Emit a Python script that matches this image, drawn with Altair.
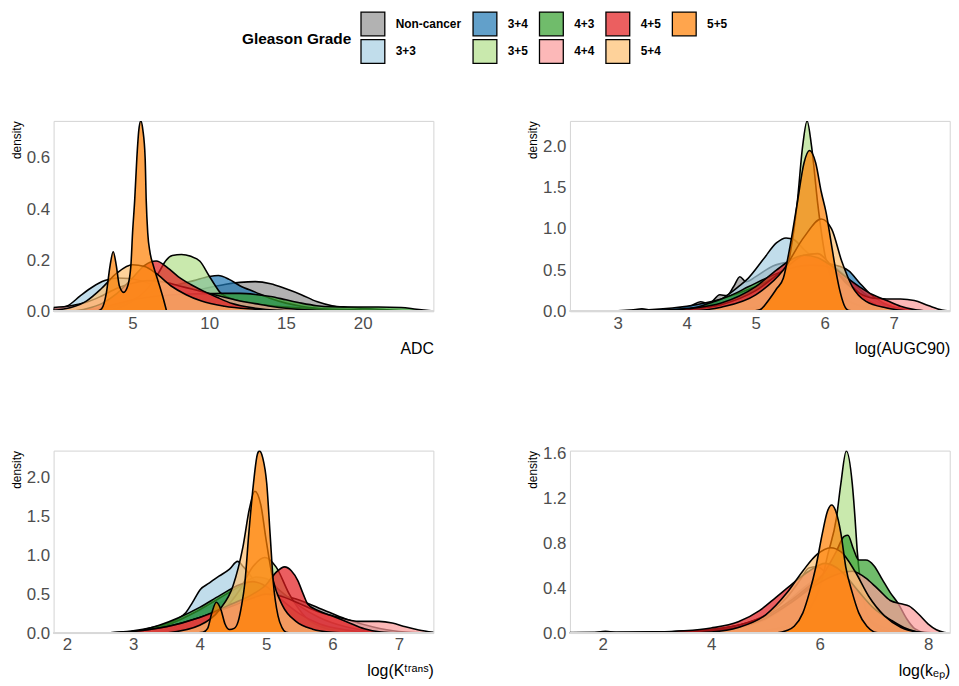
import altair as alt
import pandas as pd

GROUPS = ["Non-cancer", "3+3", "3+4", "3+5", "4+3", "4+4", "4+5", "5+4", "5+5"]
GROUP_COLORS = ["#919191", "#a6cee3", "#1f78b4", "#b2df8a", "#33a02c", "#fb9a99", "#e31a1c", "#fdbf6f", "#ff7f00"]
FILL_ALPHA = 0.7

# ---- density curves: (x, density) ----
ADC = {
    "Non-cancer": [(1, 0), (2, 0.005), (3, 0.012), (4, 0.02), (5, 0.03), (6, 0.042), (7, 0.055), (8, 0.068),
                   (9, 0.08), (10, 0.093), (11, 0.105), (12, 0.113), (13, 0.116), (14, 0.108), (15, 0.088),
                   (16, 0.065), (17, 0.038), (18, 0.022), (19, 0.016), (20, 0.012), (21, 0.008), (22, 0.004),
                   (23, 0.001), (24, 0)],
    "3+3": [(-0.13, 0.008), (0.8, 0.022), (1.6, 0.06), (2.4, 0.095), (3.2, 0.12), (4, 0.13), (4.8, 0.128),
            (5.8, 0.115), (7, 0.09), (8.5, 0.06), (10, 0.04), (12, 0.02), (14, 0.01), (17, 0.003), (20, 0)],
    "3+4": [(2, 0), (3, 0.01), (4, 0.025), (5, 0.045), (6, 0.07), (7, 0.09), (8, 0.105), (9, 0.12), (10, 0.136),
            (10.6, 0.14), (11.3, 0.125), (12, 0.1), (13, 0.075), (14, 0.05), (15, 0.032), (16, 0.02),
            (17, 0.012), (18, 0.006), (20, 0.002), (22, 0)],
    "3+5": [(3, 0), (4, 0.01), (5, 0.04), (6, 0.09), (6.7, 0.15), (7.2, 0.2), (7.6, 0.218), (8.2, 0.222),
            (8.8, 0.215), (9.4, 0.196), (10.0, 0.138), (10.4, 0.1), (10.7, 0.074), (11.2, 0.055), (12, 0.04),
            (14, 0.022), (16, 0.013), (18, 0.008), (20, 0.005), (24, 0)],
    "4+3": [(1, 0), (2, 0.005), (3, 0.015), (4, 0.03), (5, 0.045), (6, 0.055), (7, 0.062), (8, 0.066),
            (9, 0.068), (10, 0.069), (11, 0.07), (12, 0.07), (13, 0.066), (14, 0.058), (15, 0.045),
            (16, 0.032), (17, 0.022), (18, 0.018), (19.5, 0.017), (21, 0.017), (22.5, 0.015), (23.5, 0.008),
            (24.6, 0.001)],
    "4+4": [(-0.13, 0.015), (1, 0.022), (2, 0.035), (3, 0.06), (4, 0.09), (5, 0.11), (6, 0.12), (7, 0.115),
            (8, 0.1), (9, 0.085), (10, 0.07), (11, 0.055), (12, 0.04), (13, 0.03), (14, 0.02), (15, 0.012),
            (17, 0.004), (19, 0)],
    "4+5": [(1, 0), (2, 0.01), (3, 0.03), (4, 0.07), (5, 0.13), (5.8, 0.18), (6.55, 0.197), (7.3, 0.17),
            (8, 0.135), (8.8, 0.105), (9.6, 0.08), (10.5, 0.055), (11.5, 0.03), (13, 0.012), (15, 0.003),
            (17, 0)],
    "5+4": [(-0.13, 0.004), (1, 0.015), (2, 0.04), (3, 0.09), (4, 0.15), (5, 0.182), (5.8, 0.175), (6.5, 0.15),
            (7.5, 0.1), (8.5, 0.065), (9.5, 0.04), (11, 0.02), (13, 0.008), (15, 0)],
    "5+5": [(2.7, 0), (3.0, 0.01), (3.3, 0.07), (3.55, 0.18), (3.75, 0.233), (3.95, 0.18), (4.15, 0.1),
            (4.43, 0.074), (4.7, 0.1), (4.9, 0.177), (5.01, 0.306), (5.15, 0.435), (5.29, 0.6), (5.42, 0.71),
            (5.55, 0.745), (5.68, 0.71), (5.83, 0.6), (5.9, 0.435), (6.0, 0.306), (6.15, 0.23), (6.37, 0.177),
            (6.7, 0.113), (7.02, 0.048), (7.23, 0)],
}

AUGC = {
    "Non-cancer": [(2.31, 0.003), (3.0, 0.005), (3.2, 0.015), (3.35, 0.03), (3.5, 0.015), (3.8, 0.02),
                   (4.05, 0.06), (4.2, 0.115), (4.32, 0.09), (4.48, 0.2), (4.58, 0.19), (4.68, 0.3),
                   (4.77, 0.42), (4.86, 0.36), (5.0, 0.42), (5.25, 0.55), (5.5, 0.6), (5.8, 0.62), (6.0, 0.6),
                   (6.2, 0.5), (6.4, 0.35), (6.6, 0.2), (6.8, 0.1), (7.0, 0.05), (7.3, 0.015), (7.6, 0)],
    "3+3": [(3.5, 0), (4.0, 0.03), (4.39, 0.09), (4.58, 0.19), (4.75, 0.3), (4.89, 0.4), (5.11, 0.63),
            (5.3, 0.83), (5.44, 0.89), (5.55, 0.87), (5.7, 0.75), (5.9, 0.6), (6.1, 0.48), (6.3, 0.32),
            (6.5, 0.15), (6.7, 0.05), (7.0, 0.01), (7.3, 0)],
    "3+4": [(2.31, 0), (3.0, 0.005), (3.5, 0.02), (4.0, 0.06), (4.5, 0.15), (5.0, 0.3), (5.4, 0.45),
            (5.7, 0.55), (6.0, 0.58), (6.2, 0.55), (6.35, 0.49), (6.5, 0.35), (6.66, 0.21), (6.85, 0.1),
            (7.1, 0.03), (7.5, 0)],
    "3+5": [(4.5, 0), (5.0, 0.05), (5.3, 0.2), (5.5, 0.7), (5.6, 1.3), (5.68, 2.0), (5.745, 2.31), (5.81, 2.0),
            (5.9, 1.3), (6.0, 0.7), (6.15, 0.3), (6.4, 0.1), (6.8, 0.02), (7.2, 0)],
    "4+3": [(3.3, 0), (3.8, 0.02), (4.15, 0.05), (4.39, 0.116), (4.63, 0.19), (4.9, 0.3), (5.2, 0.42),
            (5.5, 0.52), (5.8, 0.56), (6.0, 0.55), (6.2, 0.45), (6.4, 0.3), (6.6, 0.15), (6.8, 0.06),
            (7.0, 0.02), (7.3, 0)],
    "4+4": [(3.5, 0), (4.0, 0.02), (4.5, 0.08), (5.0, 0.25), (5.4, 0.5), (5.7, 0.68), (5.9, 0.7), (6.1, 0.55),
            (6.3, 0.35), (6.5, 0.22), (6.7, 0.16), (6.9, 0.15), (7.1, 0.15), (7.3, 0.13), (7.5, 0.07),
            (7.7, 0.015), (7.81, 0.004)],
    "4+5": [(3.5, 0), (4.0, 0.03), (4.5, 0.1), (5.0, 0.3), (5.3, 0.5), (5.5, 0.62), (5.7, 0.68), (5.9, 0.65),
            (6.1, 0.55), (6.3, 0.42), (6.5, 0.3), (6.7, 0.2), (6.9, 0.13), (7.1, 0.06), (7.3, 0.02), (7.5, 0)],
    "5+4": [(4.0, 0), (4.5, 0.05), (5.0, 0.2), (5.4, 0.5), (5.7, 0.9), (5.95, 1.12), (6.1, 1.0), (6.25, 0.6),
            (6.4, 0.3), (6.6, 0.12), (6.9, 0.04), (7.3, 0)],
    "5+5": [(4.9, 0), (5.06, 0.02), (5.2, 0.15), (5.3, 0.27), (5.4, 0.4), (5.5, 0.8), (5.6, 1.3), (5.7, 1.8),
            (5.78, 1.95), (5.87, 1.8), (5.95, 1.45), (6.02, 1.2), (6.1, 0.8), (6.16, 0.5), (6.22, 0.25),
            (6.28, 0.08), (6.35, 0.01), (6.5, 0)],
}

KTRANS = {
    "Non-cancer": [(2.5, 0), (3.0, 0.03), (3.5, 0.12), (3.8, 0.22), (4.2, 0.35), (4.6, 0.48), (5.0, 0.5),
                   (5.4, 0.45), (5.8, 0.32), (6.2, 0.18), (6.6, 0.08), (7.0, 0.02), (7.5, 0)],
    "3+3": [(2.5, 0), (3.0, 0.01), (3.19, 0.03), (3.39, 0.09), (3.64, 0.17), (3.79, 0.26), (3.89, 0.39),
            (4.01, 0.56), (4.14, 0.64), (4.29, 0.73), (4.45, 0.82), (4.57, 0.92), (4.66, 0.85), (4.8, 0.7),
            (5.0, 0.5), (5.2, 0.35), (5.5, 0.2), (5.8, 0.1), (6.2, 0.04), (6.6, 0.01), (7.0, 0)],
    "3+4": [(2.5, 0), (3.0, 0.02), (3.5, 0.1), (4.0, 0.3), (4.3, 0.45), (4.6, 0.6), (4.85, 0.72), (5.0, 0.7),
            (5.2, 0.55), (5.5, 0.35), (5.8, 0.2), (6.2, 0.08), (6.6, 0.02), (7.0, 0)],
    "3+5": [(3.0, 0), (3.5, 0.02), (4.0, 0.1), (4.3, 0.25), (4.6, 0.55), (4.8, 0.85), (4.98, 0.97),
            (5.15, 0.85), (5.35, 0.5), (5.6, 0.2), (5.9, 0.06), (6.3, 0.01), (6.6, 0)],
    "4+3": [(2.5, 0), (2.9, 0.01), (3.09, 0.03), (3.39, 0.1), (3.69, 0.2), (4.0, 0.33), (4.3, 0.48), (4.6, 0.62),
            (4.8, 0.66), (5.0, 0.6), (5.2, 0.45), (5.5, 0.25), (5.8, 0.12), (6.2, 0.04), (6.6, 0.01), (7.0, 0)],
    "4+4": [(2.5, 0), (3.0, 0.02), (3.5, 0.08), (4.0, 0.2), (4.5, 0.35), (4.8, 0.45), (5.0, 0.5), (5.2, 0.48),
            (5.5, 0.38), (5.8, 0.27), (6.1, 0.2), (6.4, 0.15), (6.7, 0.15), (6.9, 0.13), (7.1, 0.08),
            (7.3, 0.04), (7.52, 0.01)],
    "4+5": [(2.5, 0), (3.0, 0.02), (3.5, 0.08), (4.0, 0.2), (4.5, 0.38), (4.8, 0.5), (5.0, 0.62), (5.15, 0.78),
            (5.28, 0.85), (5.38, 0.8), (5.48, 0.67), (5.56, 0.5), (5.63, 0.37), (5.78, 0.29), (5.98, 0.225),
            (6.23, 0.14), (6.48, 0.055), (6.73, 0.013), (7.0, 0)],
    "5+4": [(3.5, 0), (4.0, 0.1), (4.3, 0.3), (4.5, 0.6), (4.65, 1.1), (4.75, 1.6), (4.83, 1.82), (4.92, 1.65),
            (5.0, 1.2), (5.1, 0.7), (5.25, 0.35), (5.45, 0.15), (5.7, 0.05), (6.0, 0.01), (6.3, 0)],
    "5+5": [(3.9, 0), (4.05, 0.01), (4.12, 0.06), (4.18, 0.25), (4.25, 0.395), (4.32, 0.3), (4.38, 0.12),
            (4.45, 0.045), (4.52, 0.06), (4.58, 0.15), (4.63, 0.35), (4.68, 0.64), (4.74, 1.28), (4.81, 1.92),
            (4.87, 2.3), (4.9, 2.34), (4.95, 2.25), (5.01, 1.92), (5.06, 1.28), (5.11, 0.64), (5.18, 0.22),
            (5.24, 0.07), (5.3, 0.01), (5.4, 0)],
}

KEP = {
    "Non-cancer": [(1.4, 0.005), (1.8, 0.005), (2.05, 0.015), (2.3, 0.005), (3.0, 0.008), (3.5, 0.015),
                   (4.0, 0.03), (4.5, 0.07), (4.7, 0.09), (5.0, 0.14), (5.3, 0.23), (5.6, 0.36), (5.9, 0.47),
                   (6.1, 0.52), (6.4, 0.46), (6.7, 0.35), (7.0, 0.22), (7.3, 0.1), (7.6, 0.03), (8.0, 0.005),
                   (8.3, 0)],
    "3+3": [(1.4, 0.003), (2.5, 0.005), (3.5, 0.015), (4.0, 0.03), (4.5, 0.07), (5.0, 0.16), (5.4, 0.32),
            (5.65, 0.48), (5.8, 0.58), (5.95, 0.59), (6.15, 0.52), (6.4, 0.4), (6.7, 0.22), (7.0, 0.09),
            (7.4, 0.02), (7.8, 0)],
    "3+4": [(1.4, 0.002), (2.5, 0.005), (3.5, 0.015), (4.0, 0.03), (4.5, 0.07), (5.0, 0.15), (5.5, 0.3),
            (5.9, 0.45), (6.2, 0.52), (6.5, 0.48), (6.8, 0.35), (7.1, 0.2), (7.4, 0.08), (7.7, 0.02), (8.0, 0)],
    "3+5": [(4.5, 0), (5.0, 0.02), (5.5, 0.08), (5.8, 0.2), (6.0, 0.4), (6.15, 0.7), (6.31, 1.03), (6.39, 1.33),
            (6.49, 1.62), (6.6, 1.33), (6.65, 1.03), (6.69, 0.74), (6.75, 0.45), (6.85, 0.2), (7.0, 0.07),
            (7.3, 0.01), (7.6, 0)],
    "4+3": [(1.4, 0.003), (3.0, 0.005), (4.0, 0.02), (4.5, 0.05), (5.0, 0.12), (5.5, 0.28), (5.8, 0.4),
            (6.1, 0.55), (6.3, 0.72), (6.45, 0.86), (6.52, 0.87), (6.62, 0.75), (6.72, 0.65), (6.85, 0.65),
            (7.0, 0.6), (7.15, 0.48), (7.3, 0.36), (7.45, 0.26), (7.6, 0.13), (7.75, 0.04), (7.95, 0.005),
            (8.2, 0)],
    "4+4": [(2.0, 0.002), (3.0, 0.005), (4.0, 0.02), (4.5, 0.05), (5.0, 0.13), (5.5, 0.28), (5.9, 0.42),
            (6.3, 0.52), (6.6, 0.55), (6.9, 0.47), (7.1, 0.38), (7.3, 0.29), (7.5, 0.26), (7.65, 0.24),
            (7.82, 0.17), (8.0, 0.08), (8.15, 0.03), (8.3, 0.005), (8.39, 0)],
    "4+5": [(1.4, 0.002), (2.0, 0.005), (3.0, 0.01), (3.5, 0.02), (4.0, 0.045), (4.5, 0.1), (4.89, 0.2),
            (5.2, 0.32), (5.5, 0.44), (5.8, 0.55), (6.1, 0.62), (6.4, 0.55), (6.7, 0.38), (7.0, 0.22),
            (7.3, 0.12), (7.55, 0.05), (7.8, 0.01), (8.0, 0)],
    "5+4": [(3.5, 0), (4.0, 0.01), (4.5, 0.05), (5.0, 0.16), (5.4, 0.36), (5.7, 0.56), (5.95, 0.7), (6.2, 0.76),
            (6.4, 0.72), (6.65, 0.55), (6.9, 0.33), (7.2, 0.15), (7.5, 0.05), (7.8, 0.01), (8.1, 0)],
    "5+5": [(5.2, 0), (5.38, 0.02), (5.53, 0.06), (5.69, 0.18), (5.81, 0.36), (5.93, 0.59), (6.05, 0.89),
            (6.14, 1.08), (6.22, 1.14), (6.3, 1.08), (6.39, 0.89), (6.48, 0.59), (6.6, 0.36), (6.72, 0.18),
            (6.87, 0.06), (7.0, 0.01), (7.1, 0)],
}

FONT = "Liberation Sans, Arial, sans-serif"
PANEL_W = 383


def blend(hex_color, alpha):
    r, g, b = (int(hex_color[i:i + 2], 16) for i in (1, 3, 5))
    mix = [round(alpha * c + (1 - alpha) * 255) for c in (r, g, b)]
    return "#%02x%02x%02x" % tuple(mix)


# the fill scale lists the groups in reverse so that its (legend-less) domain
# is not merged with the legend's colour scale
FILL_SCALE = alt.Scale(domain=GROUPS[::-1], range=GROUP_COLORS[::-1])
LEGEND_SCALE = alt.Scale(domain=GROUPS, range=[blend(c, FILL_ALPHA) for c in GROUP_COLORS])
LEGEND = alt.Legend(
    title="Gleason Grade", orient="none", legendX=190, legendY=-111, columns=5,
    titleOrient="left", titleFont=FONT, titleFontSize=15.5, titleFontWeight="bold", titleColor="black",
    titlePadding=8, titleAnchor="middle", titleBaseline="middle",
    labelFont=FONT, labelFontSize=12, labelFontWeight="bold", labelColor="black", labelOffset=10,
    symbolType="square", symbolSize=576, symbolStrokeColor="black", symbolStrokeWidth=1.3,
    symbolOpacity=1, columnPadding=8, rowPadding=-3, gridAlign="each",
)


def panel(curves, xdom, ymax, xticks, yticks, xtitle, height, with_legend):
    df = pd.DataFrame([{"group": g, "x": x, "y": y} for g in GROUPS for (x, y) in curves[g]])
    xaxis = alt.Axis(values=xticks, format="d", labelFont=FONT, labelFontSize=17, labelColor="#4d4d4d",
                     labelPadding=4, ticks=False, tickSize=0, domain=False, grid=False, labelFlush=False,
                     labelOverlap=False, titleFont=FONT, titleFontSize=16, titleFontWeight="normal",
                     titleColor="black", titleAnchor="end", titleAlign="right", titleX=PANEL_W, titleY=43,
                     titleBaseline="alphabetic")
    yaxis = alt.Axis(values=yticks, format=".1f", labelFont=FONT, labelFontSize=17, labelColor="#4d4d4d",
                     labelPadding=4, ticks=False, tickSize=0, domain=False, grid=False, labelFlush=False,
                     labelOverlap=False, titleFont=FONT, titleFontSize=12, titleFontWeight="normal",
                     titleColor="black", titleAngle=270, titleX=-33.3, titleY=0, titleAlign="right",
                     titleBaseline="alphabetic")
    xenc = alt.X("x:Q", scale=alt.Scale(domain=xdom, nice=False, zero=False), axis=xaxis, title=xtitle)
    yenc = alt.Y("y:Q", scale=alt.Scale(domain=[0, ymax], nice=False, zero=True), axis=yaxis,
                 title="density", stack=None)
    layers = []
    for g in GROUPS:
        layers.append(
            alt.Chart().transform_filter(alt.datum.group == g)
            .mark_area(fillOpacity=FILL_ALPHA, stroke="black", strokeWidth=1.6, interpolate="monotone",
                       clip=True)
            .encode(x=xenc, y=yenc, fill=alt.Fill("group:N", scale=FILL_SCALE, legend=None))
        )
    layers.append(
        alt.Chart().mark_rule(color="#d9d9d9", strokeWidth=1.6).encode(
            x=alt.value(0), x2=alt.value(PANEL_W), y=alt.value(height))
    )
    if with_legend:
        # invisible marks that only carry the legend (with the blended swatch colours)
        layers.append(
            alt.Chart()
            .mark_square(opacity=1, fillOpacity=0, strokeOpacity=0, filled=True, size=4)
            .encode(x=xenc, y=yenc, color=alt.Color("group:N", scale=LEGEND_SCALE, legend=LEGEND))
        )
    return alt.layer(*layers, data=df).properties(width=PANEL_W, height=height)


p1 = panel(ADC, [-0.13, 24.6], 0.745, [5, 10, 15, 20], [0, 0.2, 0.4, 0.6], "ADC", 192, True)
p2 = panel(AUGC, [2.306, 7.813], 2.31, [3, 4, 5, 6, 7], [0, 0.5, 1.0, 1.5, 2.0], "log(AUGC90)", 192, False)
p3 = panel(KTRANS, [1.8, 7.52], 2.343, [2, 3, 4, 5, 6, 7], [0, 0.5, 1.0, 1.5, 2.0], "log(Kᵗʳᵃⁿˢ)", 184, False)
p4 = panel(KEP, [1.397, 8.396], 1.624, [2, 4, 6, 8], [0, 0.4, 0.8, 1.2, 1.6], "log(kₑₚ)", 184, False)

row1 = alt.hconcat(p1, p2, spacing=91.7)
row2 = alt.hconcat(p3, p4, spacing=91.7)
chart = (
    alt.vconcat(row1, row2, spacing=86.5)
    .resolve_scale(color="shared", fill="shared")
    .resolve_legend(color="shared")
    .properties(padding={"left": 2, "top": 0, "right": 0, "bottom": 0}, background="white")
    .configure_view(stroke="#d3d3d3", strokeWidth=1)
)

chart.save("out.html", embed_options={"renderer": "svg", "actions": False})
